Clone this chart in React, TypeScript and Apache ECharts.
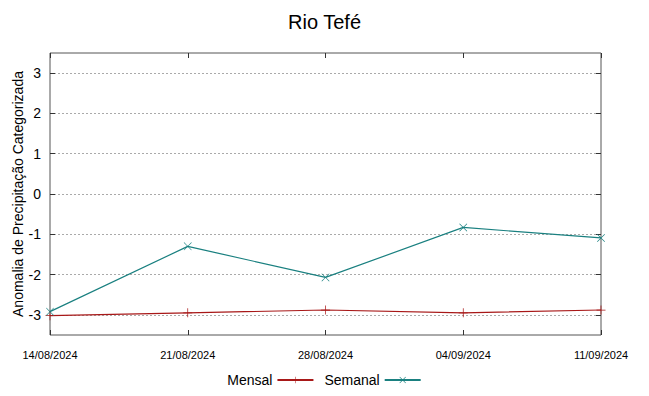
import React, { useEffect, useRef } from "react";
import * as echarts from "echarts";

const dates = ["14/08/2024", "21/08/2024", "28/08/2024", "04/09/2024", "11/09/2024"];
const mensal = [-3.02, -2.95, -2.88, -2.95, -2.88];
const semanal = [-2.92, -1.3, -2.07, -0.83, -1.09];
const yTicks = [-3, -2, -1, 0, 1, 2, 3];
const yName = "Anomalia de Precipitação Categorizada";

const plusPath = "path://M4.6,0H5.4V4.6H10V5.4H5.4V10H4.6V5.4H0V4.6H4.6Z";
const crossPath =
  "path://M0.6,0L5,4.4L9.4,0L10,0.6L5.6,5L10,9.4L9.4,10L5,5.6L0.6,10L0,9.4L4.4,5L0,0.6Z";

const FONT = "Liberation Sans";

export default function App() {
  const ref = useRef<HTMLDivElement>(null);
  useEffect(() => {
    const chart = echarts.init(ref.current!, null, { renderer: "svg" });
    const yBase = {
      type: "value" as const,
      min: -3.5,
      max: 3.5,
      axisLine: { show: false, onZero: false },
      axisTick: { show: true, inside: true, length: 5, customValues: yTicks, lineStyle: { color: "#333" } },
    };
    chart.setOption({
      animation: false,
      title: {
        text: "Rio Tefé",
        left: "center",
        top: 7,
        textStyle: { fontFamily: FONT, fontSize: 20, fontWeight: "normal", color: "#000" },
      },
      grid: {
        left: 50,
        right: 48,
        top: 53,
        bottom: 61,
        outerBoundsMode: "none",
        containLabel: false,
        show: true,
        borderColor: "#555",
        borderWidth: 1,
        backgroundColor: "transparent",
      },
      graphic: [
        {
          type: "text",
          x: 18,
          y: 194,
          rotation: Math.PI / 2,
          style: {
            text: yName,
            fontFamily: FONT,
            fontSize: 14,
            fill: "#000",
            align: "center",
            verticalAlign: "middle",
          },
        },
      ],
      legend: {
        bottom: 4,
        left: "center",
        align: "right",
        itemWidth: 36,
        itemHeight: 8,
        itemGap: 10,
        textStyle: { fontFamily: FONT, fontSize: 14, color: "#000" },
        data: ["Mensal", "Semanal"],
      },
      xAxis: [
        {
          type: "category",
          data: dates,
          boundaryGap: false,
          axisLine: { show: false, onZero: false },
          axisTick: { show: true, inside: true, length: 5, lineStyle: { color: "#333" } },
          axisLabel: { fontFamily: FONT, fontSize: 11, color: "#000", margin: 14, showMinLabel: true, showMaxLabel: true, interval: 0 },
          splitLine: { show: false },
        },
        {
          type: "category",
          data: dates,
          position: "top",
          boundaryGap: false,
          axisLine: { show: false, onZero: false },
          axisTick: { show: true, inside: true, length: 5, lineStyle: { color: "#333" } },
          axisLabel: { show: false },
          splitLine: { show: false },
        },
      ],
      yAxis: [
        {
          ...yBase,
          axisLabel: { fontFamily: FONT, fontSize: 14, color: "#000", margin: 9, customValues: yTicks },
          splitLine: { show: true, lineStyle: { color: "#aaa", type: [2, 2], width: 1 } },
        },
        {
          ...yBase,
          position: "right",
          axisLabel: { show: false, customValues: yTicks },
          splitLine: { show: false },
        },
      ],
      series: [
        {
          name: "Mensal",
          type: "line",
          data: mensal,
          symbol: plusPath,
          symbolSize: 9,
          showAllSymbol: true,
          itemStyle: { color: "#a81818" },
          lineStyle: { color: "#a81818", width: 1.2 },
        },
        {
          name: "Semanal",
          type: "line",
          data: semanal,
          symbol: crossPath,
          symbolSize: 8,
          showAllSymbol: true,
          itemStyle: { color: "#1a8080" },
          lineStyle: { color: "#1a8080", width: 1.2 },
        },
      ],
    });
    return () => chart.dispose();
  }, []);
  return <div ref={ref} style={{ width: 649, height: 396, position: "absolute", left: 0, top: 0 }} />;
}
